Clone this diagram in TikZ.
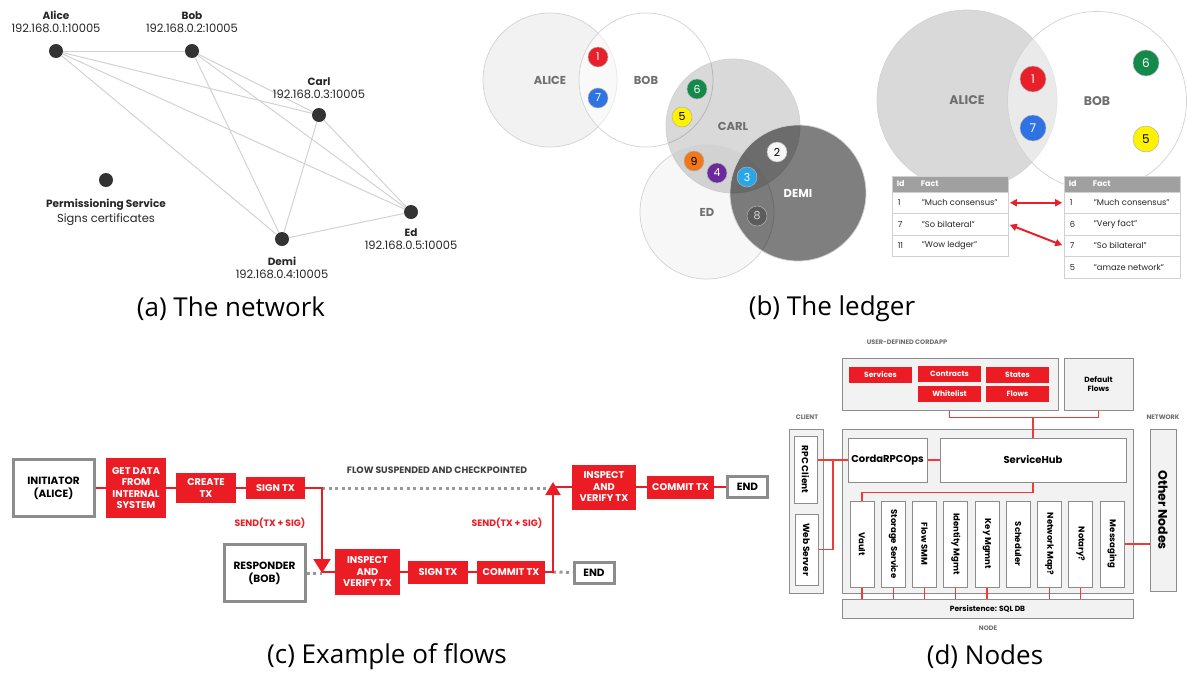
\documentclass[tikz,border=0pt]{standalone}
\usepackage{fontspec}
\setmainfont{Poppins}
\newfontfamily\capfont{Open Sans}
\usetikzlibrary{arrows.meta,positioning}

\definecolor{cordared}{HTML}{EC1C24}
\definecolor{linkred}{HTML}{F03A36}
\definecolor{dotgray}{HTML}{333333}
\definecolor{linegray}{HTML}{D2D2D2}
\definecolor{boxgray}{HTML}{8C8C8C}
\definecolor{panelgray}{HTML}{F2F2F2}
\definecolor{labelgray}{HTML}{6E6E6E}
\definecolor{headgray}{HTML}{A0A0A0}
\definecolor{badgered}{HTML}{E8202A}
\definecolor{badgeblue}{HTML}{2F72E4}
\definecolor{badgegreen}{HTML}{13894A}
\definecolor{badgeyellow}{HTML}{FFF200}
\definecolor{badgeorange}{HTML}{F07818}
\definecolor{badgepurple}{HTML}{6A2A9E}
\definecolor{badgecyan}{HTML}{2AA5E8}
\definecolor{badgewhite}{HTML}{F6F6F6}
\definecolor{badgedark}{HTML}{5C5C5C}

\begin{document}
\begin{tikzpicture}[x=1pt,y=-1pt,
  peer/.style={circle,fill=dotgray,inner sep=0pt,minimum size=14},
  peername/.style={inner sep=0pt,font=\bfseries\fontsize{10.5}{12}\selectfont,text=black!85},
  peerip/.style={inner sep=0pt,font=\fontsize{11.5}{13}\selectfont,text=black!85},
  netline/.style={draw=linegray,line width=1pt},
  venn/.style={circle,draw=linegray,line width=0.7pt,inner sep=0pt,minimum size=134},
  bigvenn/.style={venn,minimum size=180},
  vennlabel/.style={font=\bfseries\fontsize{11.5}{12}\selectfont,text=labelgray},
  badge/.style={circle,draw=black!30,line width=0.5pt,inner sep=0pt,minimum size=20,text=white,font=\fontsize{11}{12}\selectfont},
  bigbadge/.style={badge,minimum size=26,font=\fontsize{12}{12}\selectfont},
  factrow/.style={draw=black!18,fill=white,line width=0.8pt,minimum width=116,minimum height=21.5,inner sep=0pt},
  facthead/.style={fill=headgray,draw=black!18,line width=0.8pt,minimum width=116,minimum height=16,inner sep=0pt},
  factcell/.style={anchor=west,inner sep=0pt,font=\fontsize{8.3}{9}\selectfont,text=black!85},
  headcell/.style={anchor=west,inner sep=0pt,font=\bfseries\fontsize{8}{9}\selectfont,text=white},
  tablearrow/.style={draw=badgered,line width=2pt,{Triangle[length=7pt,width=7pt]}-{Triangle[length=7pt,width=7pt]},shorten <=1.5pt,shorten >=1.5pt},
  actor/.style={draw=boxgray,line width=3pt,fill=white,minimum width=81,minimum height=57,align=center,font=\bfseries\fontsize{10.5}{13}\selectfont},
  endbox/.style={draw=boxgray,line width=3pt,fill=white,minimum width=40,minimum height=21,inner sep=0pt,font=\bfseries\fontsize{10.5}{12}\selectfont},
  flowstep/.style={fill=cordared,text=white,align=center,inner sep=0pt,font=\bfseries\fontsize{9.8}{11.5}\selectfont},
  redlink/.style={draw=cordared,line width=2.2pt},
  waitline/.style={draw=black!40,line width=3pt,dash pattern=on 3pt off 3.5pt},
  sendlabel/.style={text=cordared,font=\bfseries\fontsize{9.3}{10}\selectfont},
  panel/.style={draw=boxgray,line width=1pt,fill=panelgray,inner sep=0pt,align=center,font=\bfseries\fontsize{7.5}{9}\selectfont},
  whitebox/.style={draw=boxgray,line width=1pt,fill=white,inner sep=0pt,font=\bfseries\fontsize{9}{10}\selectfont},
  servicebox/.style={whitebox,minimum width=24,minimum height=86,font=\bfseries\fontsize{8.5}{10}\selectfont},
  appbox/.style={fill=cordared,text=white,inner sep=0pt,minimum width=63,minimum height=16,font=\bfseries\fontsize{7.5}{9}\selectfont},
  grouplabel/.style={text=labelgray,font=\bfseries\fontsize{6.5}{8}\selectfont},
  nodelink/.style={draw=linkred,line width=1.3pt},
  caption/.style={font=\capfont\fontsize{26}{28}\selectfont}]
\useasboundingbox (0,0) rectangle (1187,673);

% (a) the network
\node[peer] (alice) at (56,51) {};
\node[peer] (bob) at (192,51) {};
\node[peer] (carl) at (319,115) {};
\node[peer] (ed) at (411,212) {};
\node[peer] (demi) at (282,239) {};
\node[peer] (perm) at (106,180) {};
\path[netline] (alice) edge (bob) edge (carl) edge (ed) edge (demi)
  (bob) edge (carl) edge (ed) edge (demi)
  (carl) edge (ed) edge (demi)
  (demi) edge (ed);
\node[peerip,above=11pt of alice] (aliceip) {192.168.0.1:10005};
\node[peername,above=4pt of aliceip] (alicename) {Alice};
\node[peerip,above=11pt of bob] (bobip) {192.168.0.2:10005};
\node[peername,above=4pt of bobip] (bobname) {Bob};
\node[peerip,above=9pt of carl] (carlip) {192.168.0.3:10005};
\node[peername,above=4pt of carlip] (carlname) {Carl};
\node[peername,below=9pt of ed] (edname) {Ed};
\node[peerip,below=4pt of edname] (edip) {192.168.0.5:10005};
\node[peername,below=11pt of demi] (deminame) {Demi};
\node[peerip,below=4pt of deminame] (demiip) {192.168.0.4:10005};
\node[peername,below=12pt of perm] (permname) {Permissioning Service};
\node[peerip,below=3pt of permname] (permtext) {Signs certificates};

% (b) the ledger
\node[venn,fill=black,fill opacity=0.05] (lalice) at (550,80) {};
\node[venn,fill=white,fill opacity=0.5] (lbob) at (646,80) {};
\node[venn,fill=black,fill opacity=0.15] (lcarl) at (733,126) {};
\node[venn,fill=black,fill opacity=0.03] (led) at (707,212) {};
\node[venn,fill=black,fill opacity=0.5,minimum size=136] (ldemi) at (798,193) {};
\node[vennlabel] (lalicename) at (lalice) {ALICE};
\node[vennlabel] (lbobname) at (lbob) {BOB};
\node[vennlabel] (lcarlname) at (lcarl) {CARL};
\node[vennlabel] (ledname) at (led) {ED};
\node[vennlabel,text=white] (ldeminame) at (ldemi) {DEMI};
\node[badge,fill=badgered] (lb1) at (598,57) {1};
\node[badge,fill=badgeblue] (lb7) at (598,98) {7};
\node[badge,fill=badgegreen] (lb6) at (697,89) {6};
\node[badge,fill=badgeyellow,text=black] (lb5) at (682,117) {5};
\node[badge,fill=badgeorange,text=black] (lb9) at (694,161) {9};
\node[badge,fill=badgepurple] (lb4) at (717,173) {4};
\node[badge,fill=badgecyan] (lb3) at (747,177) {3};
\node[badge,fill=badgewhite,text=black] (lb2) at (777,152) {2};
\node[badge,fill=badgedark,text=black!15] (lb8) at (757,216) {8};

\node[bigvenn,fill=black!15] (ralice) at (967,100) {};
\node[bigvenn,fill=white,fill opacity=0.45,minimum size=179] (rbob) at (1097,101) {};
\node[vennlabel,font=\bfseries\fontsize{12.5}{13}\selectfont] (ralicename) at (ralice) {ALICE};
\node[vennlabel,font=\bfseries\fontsize{12.5}{13}\selectfont] (rbobname) at (rbob) {BOB};
\node[bigbadge,fill=badgered] (rb1) at (1033,79) {1};
\node[bigbadge,fill=badgeblue] (rb7) at (1033,128) {7};
\node[bigbadge,fill=badgegreen] (rb6) at (1146,63) {6};
\node[bigbadge,fill=badgeyellow,text=black] (rb5) at (1146,139) {5};

\node[facthead] (lhead) at (950,184) {};
\node[headcell] (lheadid) at ([xshift=5pt]lhead.west) {Id};
\node[headcell] (lheadfact) at ([xshift=29pt]lhead.west) {Fact};
\foreach \i/\id/\fact in {1/1/"Much consensus",2/7/"So bilateral",3/11/"Wow ledger"} {
  \node[factrow] (lrow\i) at (950,{192+21.5*(\i-0.5)}) {};
  \node[factcell] (lid\i) at ([xshift=6pt]lrow\i.west) {\id};
  \node[factcell] (lfact\i) at ([xshift=30pt]lrow\i.west) {\fact};
}
\node[facthead] (rhead) at (1122,184) {};
\node[headcell] (rheadid) at ([xshift=5pt]rhead.west) {Id};
\node[headcell] (rheadfact) at ([xshift=29pt]rhead.west) {Fact};
\foreach \i/\id/\fact in {1/1/"Much consensus",2/6/"Very fact",3/7/"So bilateral",4/5/"amaze network"} {
  \node[factrow] (rrow\i) at (1122,{192+21.5*(\i-0.5)}) {};
  \node[factcell] (rid\i) at ([xshift=6pt]rrow\i.west) {\id};
  \node[factcell] (rfact\i) at ([xshift=30pt]rrow\i.west) {\fact};
}
\draw[tablearrow] (lrow1.east) -- (rrow1.west);
\draw[tablearrow] (lrow2.east) -- (rrow3.west);

% (c) example of flows
\node[actor] (initiator) at (53.5,488) {INITIATOR\\(ALICE)};
\node[flowstep,minimum width=60,minimum height=60] (getdata) at (136,488) {GET DATA\\FROM\\INTERNAL\\SYSTEM};
\node[flowstep,minimum width=60,minimum height=30] (create) at (206,488) {CREATE\\TX};
\node[flowstep,minimum width=59,minimum height=22] (signa) at (275.5,488) {SIGN TX};
\node[flowstep,minimum width=64,minimum height=45] (inspecta) at (604,487) {INSPECT\\AND\\VERIFY TX};
\node[flowstep,minimum width=67,minimum height=23] (commita) at (680.5,487) {COMMIT TX};
\node[endbox] (enda) at (747.5,487) {END};
\node[actor] (responder) at (264.5,573) {RESPONDER\\(BOB)};
\node[flowstep,minimum width=65,minimum height=46] (inspectb) at (367.5,572) {INSPECT\\AND\\VERIFY TX};
\node[flowstep,minimum width=60,minimum height=23] (signb) at (438,572) {SIGN TX};
\node[flowstep,minimum width=68,minimum height=23] (commitb) at (511,572) {COMMIT TX};
\node[endbox] (endb) at (594,572.5) {END};
\coordinate (sendturn) at (322,488);
\coordinate (sendtip) at (322,573);
\coordinate (backturn) at (553,572);
\coordinate (backtip) at (553,482);
\draw[waitline] (sendturn) -- (backtip |- sendturn);
\draw[waitline] (responder.east) -- (sendtip |- responder.east);
\draw[waitline] (backturn) -- (endb.west);
\draw[redlink] (initiator) -- (getdata);
\draw[redlink] (getdata) -- (create);
\draw[redlink] (create) -- (signa);
\draw[redlink] (inspecta) -- (commita);
\draw[redlink] (commita) -- (enda);
\draw[redlink] (inspectb) -- (signb);
\draw[redlink] (signb) -- (commitb);
\draw[redlink,-{Triangle[length=14pt,width=17pt]}] (signa.east) -| (sendtip);
\draw[redlink] (sendtip |- inspectb.west) -- (inspectb.west);
\draw[redlink,-{Triangle[length=13pt,width=15pt]}] (commitb.east) -| (backtip);
\draw[redlink] (backtip |- inspecta.west) -- (inspecta.west);
\node[sendlabel] (senda) at (270,523) {SEND(TX + SIG)};
\node[sendlabel] (sendb) at (507,523) {SEND(TX + SIG)};
\node[sendlabel,text=black!75] (suspend) at (437,470) {FLOW SUSPENDED AND CHECKPOINTED};

% (d) nodes
\node[panel,minimum width=216,minimum height=52] (cordapp) at (950,384) {};
\node[grouplabel] (cordapplabel) at (907,342) {USER-DEFINED CORDAPP};
\node[appbox] (services) at (880.5,375) {Services};
\node[appbox] (contracts) at (949.5,374) {Contracts};
\node[appbox] (states) at (1017.5,375) {States};
\node[appbox] (whitelist) at (949.5,393.5) {Whitelist};
\node[appbox] (flows) at (1017.5,393.5) {Flows};
\node[panel,minimum width=69,minimum height=52] (defaultflows) at (1098.5,384) {Default\\Flows};
\node[grouplabel] (clientlabel) at (807,417) {CLIENT};
\node[grouplabel] (networklabel) at (1163,417) {NETWORK};
\node[panel,minimum width=34,minimum height=164] (client) at (806,511) {};
\node[panel,minimum width=291,minimum height=164] (corenode) at (987.5,511) {};
\node[panel,minimum width=26,minimum height=162,font=\bfseries\fontsize{12.5}{14}\selectfont] (othernodes) at (1163,510) {\rotatebox{-90}{Other Nodes}};
\node[whitebox,minimum width=23,minimum height=67] (rpcclient) at (805.5,469.5) {\rotatebox{-90}{RPC Client}};
\node[whitebox,minimum width=23,minimum height=71] (webserver) at (806.5,549.5) {\rotatebox{-90}{Web Server}};
\node[whitebox,minimum width=79,minimum height=44,font=\bfseries\fontsize{10}{11}\selectfont] (rpcops) at (887.5,460) {CordaRPCOps};
\node[whitebox,minimum width=186,minimum height=44,font=\bfseries\fontsize{10}{11}\selectfont] (servicehub) at (1033,460) {ServiceHub};
\foreach \name/\label [count=\i from 0] in {vault/Vault,storage/Storage Service,flowsmm/Flow SMM,identity/Identity Mgmt,keymgmt/Key Mgmnt,scheduler/Scheduler,netmap/Network Map?,notary/Notary?,messaging/Messaging}
  \node[servicebox] (\name) at ({862+31.25*\i},544) {\rotatebox{-90}{\label}};
\node[panel,minimum width=291,minimum height=19] (persistence) at (987.5,608.5) {Persistence: SQL DB};
\node[grouplabel] (nodelabel) at (988,628) {NODE};
\draw[nodelink] (whitelist |- cordapp.south) -- ++(0,7) -| (defaultflows.south);
\draw[nodelink] (servicehub.north) -- ++(0,-21);
\coordinate (clientjoin) at (833,460);
\draw[nodelink] (rpcclient.east |- rpcops.west) -- (rpcops.west);
\draw[nodelink] (webserver.east) -| (clientjoin);
\draw[nodelink] (rpcops) -- (servicehub);
\draw[nodelink] (servicehub.south) -- ++(0,10) -| (vault.north);
\foreach \name in {vault,storage,flowsmm,identity,keymgmt,netmap,notary}
  \draw[nodelink] (\name.south) -- (\name.south |- persistence.north);
\draw[nodelink] (messaging.east) -- (messaging.east -| othernodes.west);

% captions
\node[caption] (capa) at (231,309) {(a) The network};
\node[caption] (capb) at (832,309) {(b) The ledger};
\node[caption] (capc) at (387,657) {(c) Example of flows};
\node[caption] (capd) at (985,657) {(d) Nodes};
\end{tikzpicture}
\end{document}
